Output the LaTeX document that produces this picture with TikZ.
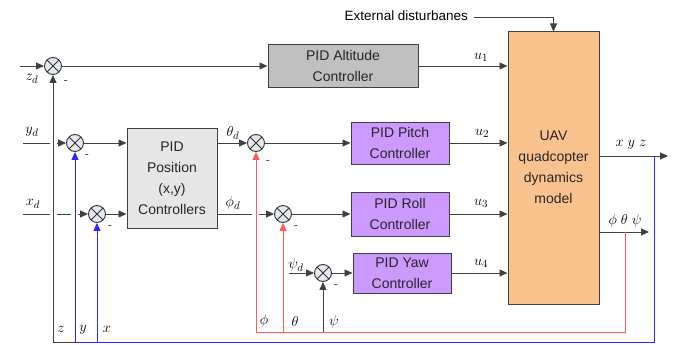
\documentclass[tikz,border=0pt]{standalone}
\usepackage{fontspec}
\newfontfamily\arial{Liberation Sans}
\usetikzlibrary{arrows.meta}
\definecolor{sumfill}{HTML}{E4E9F2}
\definecolor{altfill}{HTML}{C0C0C0}
\definecolor{posfill}{HTML}{E6E6E6}
\definecolor{purp}{HTML}{CC99FF}
\definecolor{uavfill}{HTML}{FAC28E}
\definecolor{fbred}{HTML}{FF5A5A}
\definecolor{fbblue}{HTML}{2828FF}
\begin{document}
\begin{tikzpicture}[x=1pt,y=-1pt,
  sumj/.style={circle,draw=black!80,fill=sumfill,minimum size=17pt,inner sep=0pt,line width=0.9pt,
    path picture={\draw[line width=0.9pt] (path picture bounding box.north west)--(path picture bounding box.south east)
      (path picture bounding box.north east)--(path picture bounding box.south west);}},
  box/.style={draw=black!75,line width=1pt,align=center,inner sep=1pt,
    font=\arial\fontsize{14}{21}\selectfont,text=black!85},
  ln/.style={line width=0.9pt,draw=black!75},
  arr/.style={ln,-{Triangle[length=8pt,width=7pt]}},
  rarr/.style={line width=0.9pt,draw=fbred,-{Triangle[length=8pt,width=7pt]}},
  barr/.style={line width=0.9pt,draw=fbblue,-{Triangle[length=8pt,width=7pt]}},
  lab/.style={inner sep=0pt,font=\fontsize{15}{17}\selectfont},
  minus/.style={inner sep=0pt,font=\fontsize{12}{14}\selectfont}]
\useasboundingbox (0,0) rectangle (683,345);

% blocks
\node[box,fill=altfill,minimum width=150pt,minimum height=43pt] (alt) at (343,66) {PID Altitude\\Controller};
\node[box,fill=posfill,minimum width=90pt,minimum height=100pt] (pos) at (172,178) {PID\\Position\\(x,y)\\Controllers};
\node[box,fill=purp,minimum width=98pt,minimum height=42pt] (pitch) at (400,143) {PID Pitch\\Controller};
\node[box,fill=purp,minimum width=98pt,minimum height=44pt] (roll) at (400,214) {PID Roll\\Controller};
\node[box,fill=purp,minimum width=98pt,minimum height=40pt] (yaw) at (402,273) {PID Yaw\\Controller};
\node[box,fill=uavfill,minimum width=91pt,minimum height=272pt] (uav) at (553.5,168) {};
\node[box,draw=none,fill=none] (uavt) at (553.5,167) {UAV\\quadcopter\\dynamics\\model};

% summing junctions
\node[sumj] (zs) at (53,66) {};
\node[sumj] (ys) at (75,143) {};
\node[sumj] (xs) at (97,214) {};
\node[sumj] (ths) at (256,143) {};
\node[sumj] (phs) at (283,214) {};
\node[sumj] (pss) at (323,273) {};

% coordinates
\coordinate (zin) at (20,66);
\coordinate (yin) at (23,143);
\coordinate (yg1) at (50,143);
\coordinate (yg2) at (57,143);
\coordinate (xin) at (23,214);
\coordinate (xg1) at (50,214);
\coordinate (xg2) at (57,214);
\coordinate (xg3) at (71,214);
\coordinate (xg4) at (78,214);
\coordinate (pg1) at (252,214);
\coordinate (pg2) at (259,214);
\coordinate (psin) at (289,273);
\coordinate (ext1) at (474,17);
\coordinate (ext2) at (553.5,17);
\coordinate (xyzend) at (668,156);
\coordinate (angend) at (649,232);
\coordinate (redtap) at (625,232);
\coordinate (redc) at (625,332);
\coordinate (redth) at (256,332);
\coordinate (redph) at (283,332);
\coordinate (psib) at (323,332);
\coordinate (bluetap) at (654,156);
\coordinate (bluec) at (654,342);
\coordinate (bly) at (75,342);
\coordinate (blx) at (97,342);
\coordinate (blz) at (53,342);

% forward paths
\draw[arr] (zin) -- (zs.west);
\draw[arr] (zs.east) -- (alt.west);
\draw[arr] (alt.east) -- (alt.east -| uav.west);
\draw[ln] (yin) -- (yg1);
\draw[arr] (yg2) -- (ys.west);
\draw[arr] (ys.east) -- (ys.east -| pos.west);
\draw[ln] (xin) -- (xg1);
\draw[ln] (xg2) -- (xg3);
\draw[arr] (xg4) -- (xs.west);
\draw[arr] (xs.east) -- (xs.east -| pos.west);
\draw[arr] (pos.east |- ths) -- (ths.west);
\draw[arr] (ths.east) -- (pitch.west);
\draw[ln] (pos.east |- phs) -- (pg1);
\draw[arr] (pg2) -- (phs.west);
\draw[arr] (phs.east) -- (roll.west);
\draw[arr] (psin) -- (pss.west);
\draw[arr] (pss.east) -- (yaw.west);
\draw[arr] (pitch.east) -- (pitch.east -| uav.west);
\draw[arr] (roll.east) -- (roll.east -| uav.west);
\draw[arr] (yaw.east) -- (yaw.east -| uav.west);
\draw[arr] (ext1) -- (ext2) -- (uav.north);
\draw[arr] (uav.east |- xyzend) -- (xyzend);
\draw[arr] (uav.east |- angend) -- (angend);

% feedback
\draw[line width=0.9pt,draw=fbred] (redtap) -- (redc) -- (redth);
\draw[rarr] (redth) -- (ths.south);
\draw[rarr] (redph) -- (phs.south);
\draw[arr] (psib) -- (pss.south);
\draw[line width=1pt,draw=fbblue] (bluetap) -- (bluec) -- (bly);
\draw[barr] (bly) -- (ys.south);
\draw[barr] (blx) -- (xs.south);
\draw[ln] (bly) -- (blz);
\draw[arr] (blz) -- (zs.south);

% labels
\node[lab,font=\arial\fontsize{13.5}{15}\selectfont,anchor=east] (extl) at (468,16) {External disturbanes};
\node[lab] (lzd) at (32,79) {$z_d$};
\node[lab] (lyd) at (32,132) {$y_d$};
\node[lab] (lxd) at (33,204) {$x_d$};
\node[lab] (lthd) at (233,133) {$\theta_d$};
\node[lab] (lphd) at (233,203) {$\phi_d$};
\node[lab] (lpsd) at (296,265) {$\psi_d$};
\node[lab] (lu1) at (481,57) {$u_1$};
\node[lab] (lu2) at (482,133) {$u_2$};
\node[lab] (lu3) at (481,203) {$u_3$};
\node[lab] (lu4) at (481,263) {$u_4$};
\node[lab] (lxyz) at (631,145) {$x\;y\;z$};
\node[lab] (lang) at (625,221) {$\phi\;\theta\;\psi$};
\node[lab] (lz) at (61,329) {$z$};
\node[lab] (ly) at (83,330) {$y$};
\node[lab] (lx) at (107,329) {$x$};
\node[lab] (lph) at (264,321) {$\phi$};
\node[lab] (lth) at (295,321) {$\theta$};
\node[lab] (lps) at (334,322) {$\psi$};
\node[minus] (m1) at (66,82) {-};
\node[minus] (m2) at (87,156) {-};
\node[minus] (m3) at (110,227) {-};
\node[minus] (m4) at (268,162) {-};
\node[minus] (m5) at (296,227) {-};
\node[minus] (m6) at (336,286) {-};
\end{tikzpicture}
\end{document}
